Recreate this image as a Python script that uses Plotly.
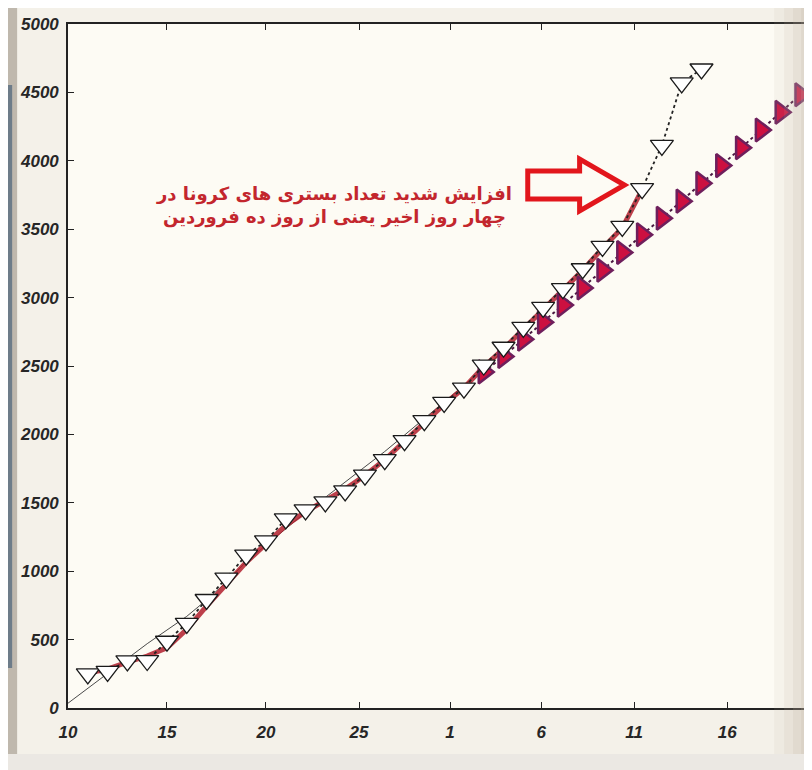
import plotly.graph_objects as go

# ---------------- data ----------------
# x = day position on the axis (10 = 10 Esfand)
obs_x = [11, 12, 13, 14, 15, 16, 17, 18, 19, 20, 21, 22, 23, 24, 25, 26,
         27, 28, 29, 30, 31, 32, 33, 34, 35, 36, 37, 38, 39, 40, 41, 42]
obs_y = [249, 268, 344, 347, 488, 619, 793, 949, 1117, 1221, 1382, 1448, 1507, 1587, 1702, 1815,
         1954, 2100, 2234, 2338, 2507, 2637, 2782, 2928, 3065, 3211, 3374, 3520, 3796, 4113, 4569, 4671]

proj_x = [31, 32, 33, 34, 35, 36, 37, 38, 39, 40, 41, 42, 43, 44, 45, 46, 47]
proj_y = [2457, 2570, 2695, 2820, 2945, 3070, 3200, 3330, 3460, 3580, 3705, 3835, 3965, 4095, 4225, 4355, 4483]

fit_x = [11, 12, 13, 14, 15, 16, 17, 18, 19, 20, 21, 22, 23, 24, 25, 26, 27, 28, 29,
         30, 31, 32, 33, 34, 35, 36, 37, 38, 39]
fit_y = [255, 285, 335, 380, 440, 575, 745, 905, 1065, 1200, 1335, 1435, 1515, 1600, 1700, 1815, 1950, 2090, 2220,
         2340, 2495, 2625, 2770, 2915, 3055, 3200, 3360, 3510, 3790]

thin_x = [10, 11, 12, 13, 14, 15, 16, 17, 18, 19, 20, 21, 22, 23, 24, 25, 26, 27, 28, 29, 30, 31, 32]
thin_y = [35, 145, 255, 365, 470, 570, 670, 790, 920, 1070, 1190, 1310, 1430, 1540, 1650, 1760, 1875,
          1995, 2115, 2235, 2355, 2480, 2610]

tick_vals = [10, 15, 20, 24.7, 29.3, 33.9, 38.6, 43.3]
tick_text = ["10", "15", "20", "25", "1", "6", "11", "16"]
y_ticks = [0, 500, 1000, 1500, 2000, 2500, 3000, 3500, 4000, 4500, 5000]

note_text = "افزایش شدید تعداد بستری های کرونا در<br>چهار روز اخیر یعنی از روز ده فروردین"

# ---------------- figure ----------------
# the page puts the figure 8px in from the top-left corner, so the figure is
# laid out 8px smaller and all page positions are shifted by OFF
OFF = 8
W, H = 812 - OFF, 770 - OFF
L, R, T, B = 68 - OFF, 0, 24 - OFF, 770 - 708
PW, PH = W - L - R, H - T - B


def px(xp):  # page pixel x -> paper
    return (xp - OFF - L) / PW


def py(yp):  # page pixel y -> paper
    return (H - B - (yp - OFF)) / PH


fig = go.Figure()

fig.add_trace(go.Scatter(x=thin_x, y=thin_y, mode="lines",
                         line=dict(color="#4a4a4a", width=1), hoverinfo="skip"))
fig.add_trace(go.Scatter(x=fit_x, y=fit_y, mode="lines",
                         line=dict(color="rgba(178,30,45,0.85)", width=5), hoverinfo="skip"))
fig.add_trace(go.Scatter(x=proj_x, y=proj_y, mode="lines+markers",
                         line=dict(color="#4a1840", width=2, dash="dot"),
                         marker=dict(symbol="triangle-right", size=20, color="#cc1040",
                                     line=dict(color="#6e1f5c", width=2.5))))
fig.add_trace(go.Scatter(x=obs_x, y=obs_y, mode="lines+markers",
                         line=dict(color="#222222", width=1.8, dash="dot"),
                         marker=dict(symbol="triangle-down", size=20, color="#ffffff",
                                     line=dict(color="#1a1a1a", width=1.3))))

tickfont = dict(family="Liberation Sans, Arial, sans-serif", size=17, color="#262626",
                weight="bold", style="italic")

fig.update_xaxes(range=[10, 10 + PW / 19.85], tickmode="array", tickvals=tick_vals, ticktext=tick_text,
                 ticks="inside", ticklen=6, tickwidth=1.3, tickcolor="#222",
                 showline=True, linecolor="#222", linewidth=1.6, mirror="ticks",
                 showgrid=False, zeroline=False, tickfont=tickfont, ticklabelstandoff=8)
fig.update_yaxes(range=[0, 5000], tickmode="array", tickvals=y_ticks,
                 ticks="inside", ticklen=6, tickwidth=1.3, tickcolor="#222",
                 showline=True, linecolor="#222", linewidth=1.6, mirror="ticks",
                 showgrid=False, zeroline=False, tickfont=tickfont, ticklabelstandoff=4)

# annotation text
fig.add_annotation(x=px(335), y=py(181), xref="paper", yref="paper", text=note_text,
                   showarrow=False, align="center",
                   font=dict(family="DejaVu Sans, Noto Sans, sans-serif", size=18, color="#c3262d",
                             weight="bold"))

# hollow block arrow
pts = [(529, 171), (581, 171), (581, 159), (626, 185), (581, 211), (581, 199), (529, 199)]
path = "M " + " L ".join(f"{px(a):.4f},{py(b):.4f}" for a, b in pts) + " Z"
fig.add_shape(type="path", path=path, xref="paper", yref="paper",
              line=dict(color="#e2161c", width=5), fillcolor="rgba(0,0,0,0)", layer="above")

# photo edges
fig.add_shape(type="rect", xref="paper", yref="paper", x0=px(0), x1=px(17), y0=py(780), y1=py(-10),
              fillcolor="#bfb8ad", line=dict(width=0), layer="above")
fig.add_shape(type="rect", xref="paper", yref="paper", x0=px(0), x1=px(12), y0=py(668), y1=py(85),
              fillcolor="#6d7c89", line=dict(width=0), layer="above")
fig.add_shape(type="rect", xref="paper", yref="paper", x0=px(0), x1=px(820), y0=py(780), y1=py(754),
              fillcolor="#ebe8e3", line=dict(width=0), layer="above")
# soft vignette on the right edge of the photo
for x0, a in [(776, 0.10), (786, 0.12), (795, 0.15), (803, 0.18)]:
    fig.add_shape(type="rect", xref="paper", yref="paper", x0=px(x0), x1=px(820), y0=py(754), y1=py(-10),
                  fillcolor=f"rgba(190,176,158,{a})", line=dict(width=0), layer="above")

fig.update_layout(width=W, height=H, margin=dict(l=L, r=R, t=T, b=B),
                  paper_bgcolor="#f4f1e9", plot_bgcolor="#fdfbf4", showlegend=False)

fig.write_html("out.html")
